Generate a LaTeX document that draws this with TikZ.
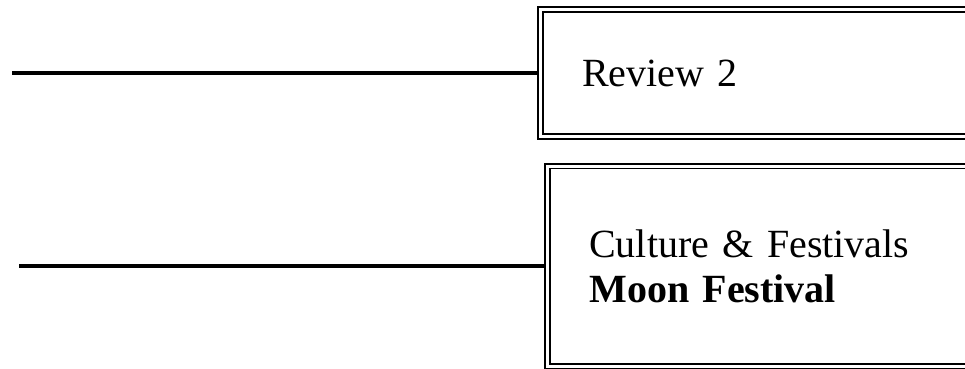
\documentclass[tikz,border=0pt]{standalone}
\usepackage{fontspec}
\setmainfont{Liberation Serif}
\begin{document}
\begin{tikzpicture}[x=1pt,y=-1pt,
    topicbox/.style={anchor=west, outer sep=0pt, inner xsep=42pt, text width=345pt,
      font=\fontsize{40}{45}\selectfont},
    frame/.style={draw, double, line width=1.8pt, double distance=3pt},
    link/.style={line width=3.5pt, shorten >=3.3pt}]

    \useasboundingbox (0,0) rectangle (965,368);

    \node[topicbox, minimum height=126.5pt] (review) at (540.3,73) {Review 2};
    \node[topicbox, minimum height=200pt] (culture) at (547.3,266) {Culture \& Festivals\\\textbf{Moon Festival}};

    % boxes run off the right edge of the page
    \draw[frame] (review.north east) -- (review.north west) -- (review.south west) -- (review.south east);
    \draw[frame] (culture.north east) -- (culture.north west) -- (culture.south west) -- (culture.south east);

    \coordinate (start1) at (12,73);
    \coordinate (start2) at (19,266);
    \draw[link] (start1) -- (review.west);
    \draw[link] (start2) -- (culture.west);

\end{tikzpicture}
\end{document}
